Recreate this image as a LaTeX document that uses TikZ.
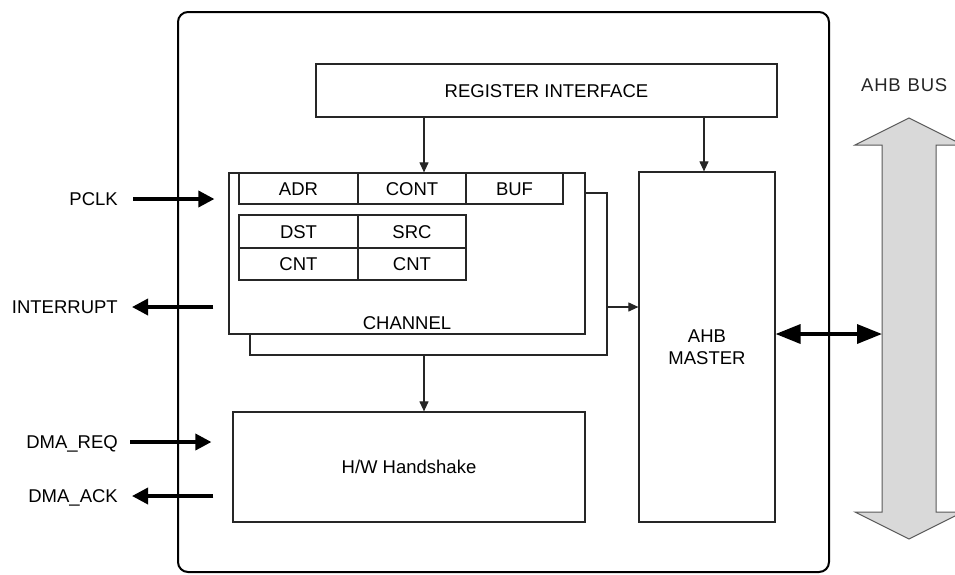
\documentclass[tikz,border=0pt]{standalone}
\usepackage{fontspec}
\setmainfont{Liberation Sans}
\newfontfamily\busfont[LetterSpace=4]{Liberation Sans}
\usetikzlibrary{arrows.meta}
\begin{document}
\begin{tikzpicture}[x=1pt,y=-1pt,
  txt/.style={font=\fontsize{18.5}{22}\selectfont, text height=13.3pt, text depth=0pt, inner sep=0pt},
  blk/.style={draw=black!85, line width=1.2pt, fill=white, inner sep=0pt, font=\fontsize{18.5}{22}\selectfont, text height=13.3pt, text depth=0pt, align=center},
  thinarrow/.style={draw=black!85, line width=1.1pt, -{Triangle[length=10pt,width=9pt]}},
  thickarrow/.style={line width=3.5pt, -{Triangle[length=16pt,width=16pt]}},
  busarrow/.style={line width=3.5pt, {Triangle[length=25pt,width=19pt]}-{Triangle[length=25pt,width=19pt]}}
]
\useasboundingbox (0,0) rectangle (955,574);
% outer frame
\draw[line width=2pt, rounded corners=10pt] (178,12) rectangle (829,572);
% register interface
\node[blk, minimum width=461pt, minimum height=53pt] (reg) at (546.5,90.5) {REGISTER INTERFACE};
% channel (back and front)
\node[blk, minimum width=357pt, minimum height=162pt] (chanback) at (428.5,274) {};
\node[blk, minimum width=356pt, minimum height=161pt] (chan) at (407,253.5) {};
\node[txt] (chanlbl) at (407,323) {CHANNEL};
% cells
\node[blk, minimum width=119pt, minimum height=31pt] (adr) at (298.5,188.5) {ADR};
\node[blk, minimum width=108pt, minimum height=31pt] (cont) at (412,188.5) {CONT};
\node[blk, minimum width=97pt, minimum height=31pt] (buf) at (514.5,188.5) {BUF};
\node[blk, minimum width=119pt, minimum height=33pt] (dst) at (298.5,231.5) {DST};
\node[blk, minimum width=108pt, minimum height=33pt] (src) at (412,231.5) {SRC};
\node[blk, minimum width=119pt, minimum height=32pt] (cnta) at (298.5,264) {CNT};
\node[blk, minimum width=108pt, minimum height=32pt] (cntb) at (412,264) {CNT};
% AHB master
\node[blk, minimum width=136pt, minimum height=350pt, text height=, text depth=] (master) at (707,347) {AHB\\MASTER};
% H/W handshake
\node[blk, minimum width=352pt, minimum height=110pt] (hw) at (409,467) {H/W Handshake};
% AHB bus
\draw[fill=black!15, draw=black!65, line width=1pt]
  (909,118) -- (963,145) -- (936,145) -- (936,512) -- (963,512) -- (909,539)
  -- (855,512) -- (882,512) -- (882,145) -- (855,145) -- cycle;
\coordinate (busL) at (882,334);
\node[txt, anchor=west, font=\busfont\fontsize{18.5}{22}\selectfont, text=black!85] (buslbl) at (861,85) {AHB\hspace{7pt}BUS};
% helper coordinates
\coordinate (xA) at (424,0);
\coordinate (xB) at (704,0);
\coordinate (yC) at (0,307);
% internal connectors
\draw[thinarrow] (reg.south -| xA) -- (cont.north -| xA);
\draw[thinarrow] (reg.south -| xB) -- (master.north -| xB);
\draw[thinarrow] (chanback.south -| xA) -- (hw.north -| xA);
\draw[thinarrow] (chanback.east |- yC) -- (master.west |- yC);
\draw[busarrow] (master.east |- busL) -- (busL);
% external signals
\node[txt, anchor=east] (pclk) at (118,199) {PCLK};
\node[txt, anchor=east] (intr) at (118,307) {INTERRUPT};
\node[txt, anchor=east] (dreq) at (118,442) {DMA\_REQ};
\node[txt, anchor=east] (dack) at (118,496) {DMA\_ACK};
\draw[thickarrow, shorten >=14pt] ([xshift=15pt]pclk.east) -- (chan.west |- pclk.east);
\draw[thickarrow, shorten <=15pt] (chan.west |- intr.east) -- ([xshift=14pt]intr.east);
\draw[thickarrow, shorten >=21pt] ([xshift=12pt]dreq.east) -- (hw.west |- dreq.east);
\draw[thickarrow, shorten <=19pt] (hw.west |- dack.east) -- ([xshift=14pt]dack.east);
\end{tikzpicture}
\end{document}
